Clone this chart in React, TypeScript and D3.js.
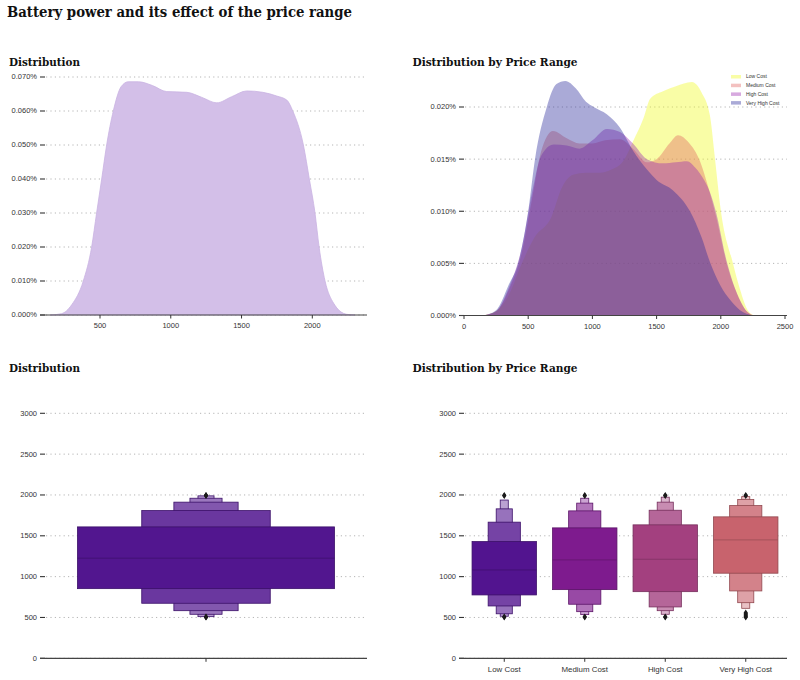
import React from "react";
import * as d3 from "d3";

// ---------- data ----------
const mainTitle = "Battery power and its effect of the price range";
const panelTitles = ["Distribution", "Distribution by Price Range", "Distribution", "Distribution by Price Range"];

const priceRanges = ["Low Cost", "Medium Cost", "High Cost", "Very High Cost"];

// overall KDE of battery_power (density in %)
const overallKde: [number, number][] = [
  [150, 0], [229, 0.0004], [300, 0.003], [382, 0.01], [441, 0.02], [476, 0.03], [512, 0.04],
  [547, 0.05], [594, 0.06], [650, 0.0672], [700, 0.0686], [771, 0.0686], [870, 0.0675],
  [971, 0.0657], [1113, 0.0655], [1220, 0.064], [1325, 0.0624], [1430, 0.0642], [1537, 0.0659],
  [1650, 0.0655], [1749, 0.0644], [1820, 0.0632], [1862, 0.06], [1937, 0.05], [1979, 0.04],
  [2019, 0.03], [2048, 0.02], [2090, 0.01], [2150, 0.0035], [2243, 0.0002], [2300, 0],
];

// KDE per price range (density in %)
const kdeLow: [number, number][] = [
  [150, 0], [250, 0.0004], [350, 0.002], [450, 0.005], [550, 0.0075], [683, 0.0095], [760, 0.0122],
  [850, 0.0135], [950, 0.0137], [1059, 0.0137], [1150, 0.014], [1250, 0.015], [1316, 0.0167],
  [1400, 0.019], [1450, 0.0208], [1550, 0.0215], [1650, 0.022], [1775, 0.0224], [1850, 0.0214],
  [1915, 0.0192], [1955, 0.015], [2000, 0.0101], [2095, 0.005], [2150, 0.0025], [2210, 0.0005], [2260, 0],
];
const kdeMedium: [number, number][] = [
  [150, 0], [250, 0.0004], [350, 0.0025], [450, 0.006], [530, 0.0112], [600, 0.0157], [693, 0.0177],
  [800, 0.017], [900, 0.0165], [1000, 0.0165], [1100, 0.0168], [1215, 0.0169], [1316, 0.016],
  [1425, 0.0147], [1500, 0.015], [1600, 0.0165], [1667, 0.0173], [1750, 0.0166], [1838, 0.0148],
  [1900, 0.0124], [1963, 0.0095], [2046, 0.005], [2130, 0.002], [2210, 0.0003], [2260, 0],
];
const kdeHigh: [number, number][] = [
  [150, 0], [250, 0.0004], [350, 0.0027], [450, 0.0065], [530, 0.0118], [600, 0.0153], [700, 0.0164],
  [800, 0.0163], [900, 0.016], [1000, 0.0168], [1113, 0.0179], [1215, 0.0176], [1316, 0.0165],
  [1425, 0.015], [1550, 0.0146], [1650, 0.0147], [1737, 0.0148], [1800, 0.0142], [1870, 0.013],
  [1916, 0.0118], [1963, 0.0099], [2046, 0.0052], [2130, 0.002], [2210, 0.0003], [2260, 0],
];
const kdeVeryHigh: [number, number][] = [
  [150, 0], [250, 0.0005], [350, 0.003], [421, 0.005], [500, 0.01], [553, 0.015], [645, 0.02],
  [720, 0.0222], [790, 0.0225], [870, 0.0218], [950, 0.0205], [1010, 0.02], [1112, 0.0193],
  [1215, 0.018], [1317, 0.0158], [1425, 0.014], [1500, 0.013], [1628, 0.012], [1760, 0.01],
  [1850, 0.0075], [1916, 0.0051], [2000, 0.0028], [2072, 0.0015], [2150, 0.0005], [2250, 0],
];

const overallXTicks = [500, 1000, 1500, 2000];
const overallYTicks = [0, 0.01, 0.02, 0.03, 0.04, 0.05, 0.06, 0.07];
const byPriceXTicks = [0, 500, 1000, 1500, 2000, 2500];
const byPriceYTicks = [0, 0.005, 0.01, 0.015, 0.02];
const boxYTicks = [0, 500, 1000, 1500, 2000, 2500, 3000];

// boxen levels [low, high], innermost first
const overallLevels: [number, number][] = [[853, 1609], [674, 1809], [583, 1912], [539, 1960], [510, 1989]];
const overallMedian = 1226;
const overallOutHigh = [1990, 1995, 1998];
const overallOutLow = [501, 505, 509];

const lowLevels: [number, number][] = [[776, 1429], [641, 1667], [545, 1830], [515, 1938]];
const mediumLevels: [number, number][] = [[841, 1597], [662, 1805], [571, 1900], [535, 1960]];
const highLevels: [number, number][] = [[816, 1634], [629, 1813], [583, 1912], [539, 1973]];
const veryHighLevels: [number, number][] = [[1042, 1732], [825, 1870], [681, 1945], [612, 1980]];
const priceMedians = [1082, 1205, 1213, 1450];
const priceOutHigh = [[1991, 1996], [1991, 1996], [1991, 1996], [1991, 1996]];
const priceOutLow = [[503, 508], [503, 508], [503, 508], [503, 512, 522, 534, 546, 558]];

// ---------- styles ----------
const SERIF = "'DejaVu Serif', serif";
const SANS = "'Liberation Sans', Arial, sans-serif";
const TICK_COLOR = "#333";
const GRID = "#b5b5b5";
const kdeColors = ["#f0f921", "#e16462", "#9c27b0", "#2a2a9a"];
const boxColors = ["#52148f", "#7e1b8e", "#a3407f", "#c8636d"];
const overallBoxColor = "#52168f";

type Pt = [number, number];

function YAxisGrid({ ticks, y, tickX, gridX0, gridX1, fmt }: any) {
  return (
    <g>
      {ticks.map((t: number) => (
        <g key={t}>
          <line x1={gridX0} x2={gridX1} y1={y(t)} y2={y(t)} stroke={GRID} strokeWidth={1} strokeDasharray="1.2,3.2" />
          <line x1={tickX} x2={tickX + 5} y1={y(t)} y2={y(t)} stroke={TICK_COLOR} strokeWidth={1.1} />
          <text x={tickX - 3} y={y(t)} dy="0.33em" textAnchor="end" fontFamily={SANS} fontSize={7.5} fill={TICK_COLOR}>
            {fmt(t)}
          </text>
        </g>
      ))}
    </g>
  );
}

function XAxis({ ticks, x, y0, x0, x1, labels, fontSize }: any) {
  return (
    <g>
      <line x1={x0} x2={x1} y1={y0} y2={y0} stroke="#444" strokeWidth={1.2} />
      {ticks.map((t: any, i: number) => (
        <g key={i}>
          <line x1={x(t)} x2={x(t)} y1={y0} y2={y0 + 3.5} stroke={TICK_COLOR} strokeWidth={1} />
          <text x={x(t)} y={y0 + 13.3} textAnchor="middle" fontFamily={SANS} fontSize={fontSize || 7.5} fill={TICK_COLOR}>
            {labels ? labels[i] : t}
          </text>
        </g>
      ))}
    </g>
  );
}

function Boxen({ levels, median, outHigh, outLow, cx, width, y, color, tStep }: any) {
  const base = d3.color(color)!;
  const edge = d3.color(color)!.darker(0.9).formatHex();
  const items = levels.map((lv: Pt, k: number) => ({ lv, k })).reverse();
  const diamond = (cy: number) => `M${cx},${cy - 3.2}L${cx + 2.1},${cy}L${cx},${cy + 3.2}L${cx - 2.1},${cy}Z`;
  return (
    <g>
      {items.map(({ lv, k }: any) => {
        const w = width / Math.pow(2, k);
        const fill = d3.interpolateRgb(base.formatHex(), "#ffffff")(k * tStep);
        return (
          <rect key={k} x={cx - w / 2} y={y(lv[1])} width={w} height={y(lv[0]) - y(lv[1])}
            fill={fill} stroke={edge} strokeWidth={0.8} />
        );
      })}
      <line x1={cx - width / 2} x2={cx + width / 2} y1={y(median)} y2={y(median)} stroke={d3.color(color)!.darker(0.6).formatHex()} strokeWidth={0.9} />
      {outHigh.map((v: number, i: number) => <path key={"h" + i} d={diamond(y(v))} fill="#1a1a1a" />)}
      {outLow.map((v: number, i: number) => <path key={"l" + i} d={diamond(y(v))} fill="#1a1a1a" />)}
    </g>
  );
}

export default function App() {
  const pctFmt = (d: number) => d.toFixed(3) + "%";

  // Panel 1
  const x1 = d3.scaleLinear().domain([500, 2000]).range([100, 312.3]);
  const y1 = d3.scaleLinear().domain([0, 0.07]).range([315, 77]);
  const area1 = d3.area<Pt>().x(d => x1(d[0])).y0(y1(0)).y1(d => y1(d[1])).curve(d3.curveMonotoneX);

  // Panel 2
  const x2 = d3.scaleLinear().domain([0, 2500]).range([464, 785]);
  const y2 = d3.scaleLinear().domain([0, 0.02]).range([315.5, 107]);
  const area2 = d3.area<Pt>().x(d => x2(d[0])).y0(y2(0)).y1(d => y2(d[1])).curve(d3.curveMonotoneX);
  const kdes = [kdeLow, kdeMedium, kdeHigh, kdeVeryHigh];

  // Panel 3
  const yb = d3.scaleLinear().domain([0, 3000]).range([658.3, 413.3]);
  // Panel 4
  const xb = d3.scaleBand<string>().domain(priceRanges).range([464, 786]).paddingInner(0).paddingOuter(0);
  const levelsByPrice = [lowLevels, mediumLevels, highLevels, veryHighLevels];

  return (
    <svg width={800} height={680} style={{ position: "absolute", left: 0, top: 0, background: "#fff" }}>
      <rect width={800} height={680} fill="#fff" />
      <text x={7} y={17} fontFamily={SERIF} fontWeight="bold" fontSize={14.5} fill="#111" textLength={345} lengthAdjust="spacingAndGlyphs">
        {mainTitle}
      </text>

      {/* titles */}
      <text x={9} y={66} fontFamily={SERIF} fontWeight="bold" fontSize={11.5} fill="#111" textLength={71} lengthAdjust="spacingAndGlyphs">{panelTitles[0]}</text>
      <text x={412.5} y={66} fontFamily={SERIF} fontWeight="bold" fontSize={11.5} fill="#111" textLength={165} lengthAdjust="spacingAndGlyphs">{panelTitles[1]}</text>
      <text x={9} y={372} fontFamily={SERIF} fontWeight="bold" fontSize={11.5} fill="#111" textLength={71} lengthAdjust="spacingAndGlyphs">{panelTitles[2]}</text>
      <text x={412.5} y={372} fontFamily={SERIF} fontWeight="bold" fontSize={11.5} fill="#111" textLength={165} lengthAdjust="spacingAndGlyphs">{panelTitles[3]}</text>

      {/* Panel 1 */}
      <YAxisGrid ticks={overallYTicks} y={y1} tickX={40} gridX0={46} gridX1={367} fmt={pctFmt} />
      <path d={area1(overallKde) || ""} fill="#d3bfe8" stroke="#c9b2e2" strokeWidth={0.8} />
      <XAxis ticks={overallXTicks} x={x1} y0={315} x0={40} x1={367} />

      {/* Panel 2 */}
      <YAxisGrid ticks={byPriceYTicks} y={y2} tickX={459} gridX0={465} gridX1={787} fmt={pctFmt} />
      {kdes.map((k, i) => (
        <path key={i} d={area2(k) || ""} fill={kdeColors[i]} fillOpacity={0.4} stroke="none" />
      ))}
      <XAxis ticks={byPriceXTicks} x={x2} y0={315.5} x0={460} x1={787} />
      {priceRanges.map((p, i) => (
        <g key={p}>
          <rect x={731} y={75 + i * 8.7} width={10} height={3.5} fill={kdeColors[i]} fillOpacity={0.4} />
          <text x={746} y={76.7 + i * 8.7} dy="0.35em" fontFamily={SANS} fontSize={5} fill="#333">{p}</text>
        </g>
      ))}

      {/* Panel 3 */}
      <YAxisGrid ticks={boxYTicks} y={yb} tickX={40} gridX0={46} gridX1={367} fmt={(d: number) => String(d)} />
      <Boxen levels={overallLevels} median={overallMedian} outHigh={overallOutHigh} outLow={overallOutLow}
        cx={206} width={257} y={yb} color={overallBoxColor} tStep={0.14} />
      <XAxis ticks={[0]} x={() => 206} y0={658.3} x0={40} x1={367} labels={[""]} />

      {/* Panel 4 */}
      <YAxisGrid ticks={boxYTicks} y={yb} tickX={459} gridX0={465} gridX1={787} fmt={(d: number) => String(d)} />
      {priceRanges.map((p, i) => (
        <Boxen key={p} levels={levelsByPrice[i]} median={priceMedians[i]} outHigh={priceOutHigh[i]} outLow={priceOutLow[i]}
          cx={(xb(p) || 0) + xb.bandwidth() / 2} width={xb.bandwidth() * 0.8} y={yb} color={boxColors[i]} tStep={0.2} />
      ))}
      <XAxis ticks={priceRanges} x={(p: string) => (xb(p) || 0) + xb.bandwidth() / 2} y0={658.3} x0={459} x1={787} labels={priceRanges} fontSize={7.9} />
    </svg>
  );
}
